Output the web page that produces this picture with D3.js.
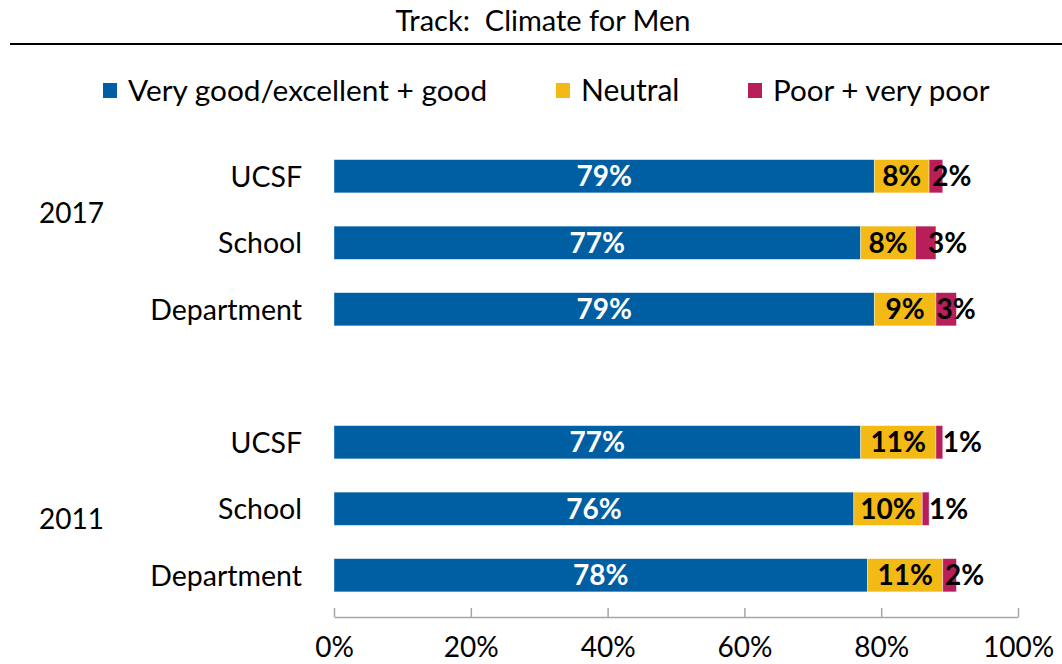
<!DOCTYPE html>
<html>
<head>
<meta charset="utf-8">
<script src="https://cdn.jsdelivr.net/npm/d3@7"></script>
<style>
  html, body { margin: 0; padding: 0; background: #fff; }
  svg { display: block; font-family: Lato, "Open Sans", sans-serif; }
</style>
</head>
<body>
<svg id="chart" width="1062" height="664"></svg>
<script>
// Survey responses, percent of respondents
const rows = ["UCSF 2017", "School 2017", "Department 2017", "gap", "UCSF 2011", "School 2011", "Department 2011"];
const rowLabels = ["UCSF", "School", "Department", "", "UCSF", "School", "Department"];
const groups = ["2017", "2011"];
const groupRows = [["UCSF 2017", "Department 2017"], ["UCSF 2011", "Department 2011"]];
const seriesNames = ["Very good/excellent + good", "Neutral", "Poor + very poor"];
const good    = [79, 77, 79, null, 77, 76, 78];
const neutral = [8, 8, 9, null, 11, 10, 11];
const poor    = [2, 3, 3, null, 1, 1, 2];
const xTicks = [0, 20, 40, 60, 80, 100];

const colors = ["#005ea2", "#f3b914", "#b71e5a"];
const poorLabelNudge = [16, 22, 10, 0, 23, 23, 15];
const groupLabelNudge = [-30, 10];

const svg = d3.select("#chart");
const W = 1062;
const margin = { left: 334, right: 44 };

const x = d3.scaleLinear().domain([0, 100]).range([margin.left, W - margin.right]);
const y = d3.scaleBand().domain(rows).range([143, 608.5]).paddingInner(0.5).paddingOuter(0.25);

// Title and rule
svg.append("text").attr("x", 543).attr("y", 31).attr("text-anchor", "middle")
  .attr("font-size", 29).attr("fill", "#000").style("white-space", "pre")
  .text("Track:  Climate for Men");
svg.append("line").attr("x1", 10).attr("x2", 1062).attr("y1", 44).attr("y2", 44)
  .attr("stroke", "#000").attr("stroke-width", 2);

// Legend
const legendX = [103, 556, 748];
const legendFont = [29.8, 30, 29.6];
const legend = svg.append("g");
seriesNames.forEach((name, i) => {
  legend.append("rect").attr("x", legendX[i]).attr("y", 83).attr("width", 14).attr("height", 15)
    .attr("fill", colors[i]);
  legend.append("text").attr("x", legendX[i] + 25).attr("y", 101).attr("font-size", legendFont[i])
    .attr("fill", "#000").text(name);
});

// Stacked bars
const stackData = rows.map((r, i) => ({ row: r, i, vals: [good[i], neutral[i], poor[i]] }))
  .filter(d => d.vals[0] !== null);

const barG = svg.append("g");
stackData.forEach(d => {
  let start = 0;
  d.vals.forEach((v, k) => {
    const x0 = x(start), x1 = x(start + v);
    barG.append("rect")
      .attr("x", x0).attr("y", y(d.row)).attr("width", x1 - x0).attr("height", y.bandwidth())
      .attr("fill", colors[k]).attr("stroke", "rgba(255,255,255,0.5)").attr("stroke-width", 0.8);
    const cx = (x0 + x1) / 2 + (k === 2 ? poorLabelNudge[d.i] : 0);
    barG.append("text")
      .attr("x", cx).attr("y", y(d.row) + y.bandwidth() / 2)
      .attr("dy", "0.36em").attr("text-anchor", "middle")
      .attr("font-size", 28).attr("font-weight", "bold")
      .attr("fill", k === 0 ? "#fff" : "#000")
      .text(v + "%");
    start += v;
  });
});

// Category labels
rows.forEach((r, i) => {
  if (!rowLabels[i]) return;
  svg.append("text").attr("x", 302).attr("y", y(r) + y.bandwidth() / 2)
    .attr("dy", "0.36em").attr("text-anchor", "end").attr("font-size", 28.5)
    .attr("fill", "#000").text(rowLabels[i]);
});

// Group labels beside their rows
groups.forEach((g, i) => {
  const [a, b] = groupRows[i];
  const cy = (y(a) + y(b) + y.bandwidth()) / 2 + groupLabelNudge[i];
  svg.append("text").attr("x", 39).attr("y", cy)
    .attr("dy", "0.36em").attr("font-size", 28).attr("fill", "#000").text(g);
});

// X axis
const axis = d3.axisBottom(x).tickValues(xTicks).tickFormat(d => d + "%").tickSizeInner(-9).tickSizeOuter(0).tickPadding(20);
const ax = svg.append("g").attr("transform", "translate(0,617)").call(axis);
ax.select(".domain").attr("stroke", "#a6a6a6").attr("stroke-width", 1.5);
ax.selectAll(".tick line").attr("stroke", "#a6a6a6").attr("stroke-width", 1.5);
ax.selectAll(".tick text").attr("font-size", 28).attr("fill", "#000")
  .attr("font-family", "Lato, 'Open Sans', sans-serif");
</script>
</body>
</html>
